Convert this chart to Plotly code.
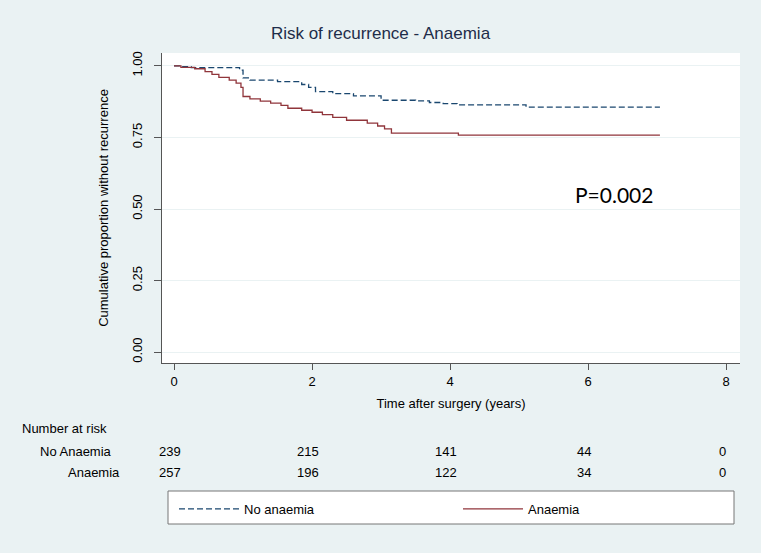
import plotly.graph_objects as go

# ---- data ----
no_anaemia_t = [0, 0.08, 0.25, 0.45, 0.95, 1.0, 1.1, 1.5, 1.85, 1.95, 2.05, 2.3, 2.6, 3.0, 3.5, 3.7, 3.9, 4.1, 5.1, 7.04]
no_anaemia_s = [1.0, 0.997, 0.994, 0.994, 0.985, 0.958, 0.950, 0.945, 0.935, 0.925, 0.910, 0.903, 0.895, 0.880, 0.878, 0.872, 0.868, 0.864, 0.856, 0.856]

anaemia_t = [0, 0.1, 0.3, 0.45, 0.55, 0.65, 0.8, 0.9, 0.97, 1.0, 1.1, 1.25, 1.4, 1.55, 1.65, 1.85, 2.0, 2.15, 2.3, 2.5, 2.8, 2.95, 3.05, 3.15, 4.12, 7.04]
anaemia_s = [1.0, 0.995, 0.99, 0.98, 0.97, 0.96, 0.95, 0.94, 0.925, 0.893, 0.885, 0.877, 0.87, 0.862, 0.852, 0.845, 0.838, 0.83, 0.82, 0.81, 0.80, 0.79, 0.78, 0.765, 0.758, 0.758]

risk_times = [0, 2, 4, 6, 8]
risk_no_anaemia = [239, 215, 141, 44, 0]
risk_anaemia = [257, 196, 122, 34, 0]

y_ticks = [0, 0.25, 0.5, 0.75, 1.0]
y_ticklabels = ["0.00", "0.25", "0.50", "0.75", "1.00"]
x_ticks = [0, 2, 4, 6, 8]

# ---- layout geometry ----
W, H = 761, 553
L, R, T, B = 162, 21, 53, 190
plot_h = H - T - B


def py(pixel_y):
    """pixel y (from top) -> paper y"""
    return (H - B - pixel_y) / plot_h


def px(pixel_x):
    return (pixel_x - L) / (W - L - R)


NAVY = "#1a476f"
MAROON = "#90353b"
BG = "#eaf2f3"
TEXTFONT = "Liberation Sans Narrow, Liberation Sans, Arial, sans-serif"
FONT = "Liberation Sans, Arial, sans-serif"

fig = go.Figure()
fig.add_trace(go.Scatter(
    x=no_anaemia_t, y=no_anaemia_s, mode="lines", name="No anaemia",
    line=dict(color=NAVY, width=1.3, dash="6px,3px", shape="hv"),
))
fig.add_trace(go.Scatter(
    x=anaemia_t, y=anaemia_s, mode="lines", name="Anaemia",
    line=dict(color=MAROON, width=1.3, shape="hv"),
))

annotations = []
annotations.append(dict(text="P=0.002", x=px(614), y=py(195), xref="paper", yref="paper",
                        showarrow=False, font=dict(family="Lato, Open Sans, sans-serif", size=21, color="#000000"),
                        xanchor="center", yanchor="middle"))
annotations.append(dict(text="Number at risk", x=px(20), y=py(428), xref="paper", yref="paper",
                        showarrow=False, font=dict(family=TEXTFONT, size=13, color="#000000"),
                        xanchor="left", yanchor="middle"))
annotations.append(dict(text="No Anaemia", x=px(114), y=py(451), xref="paper", yref="paper",
                        showarrow=False, font=dict(family=TEXTFONT, size=13, color="#000000"),
                        xanchor="right", yanchor="middle"))
annotations.append(dict(text="Anaemia", x=px(122), y=py(472), xref="paper", yref="paper",
                        showarrow=False, font=dict(family=TEXTFONT, size=13, color="#000000"),
                        xanchor="right", yanchor="middle"))
for t, n in zip(risk_times, risk_no_anaemia):
    annotations.append(dict(text=str(n), x=t, y=py(451), xref="x", yref="paper",
                            showarrow=False, font=dict(family=TEXTFONT, size=13, color="#000000"),
                            xanchor="center", yanchor="middle", xshift=-4))
for t, n in zip(risk_times, risk_anaemia):
    annotations.append(dict(text=str(n), x=t, y=py(472), xref="x", yref="paper",
                            showarrow=False, font=dict(family=TEXTFONT, size=13, color="#000000"),
                            xanchor="center", yanchor="middle", xshift=-4))

# legend frame (Stata-style box below the risk table)
shapes = [dict(type="rect", xref="paper", yref="paper", x0=px(168), x1=px(734), y0=py(524), y1=py(491),
               fillcolor="white", line=dict(color="#777777", width=1), layer="below")]

fig.update_layout(
    width=W, height=H,
    margin=dict(l=L, r=R, t=T, b=B),
    paper_bgcolor=BG, plot_bgcolor="white",
    title=dict(text="Risk of recurrence - Anaemia", x=0.5, xanchor="center", y=1 - 33 / H, yanchor="middle",
               font=dict(family=FONT, size=17, color="#1e2d4a")),
    font=dict(family=FONT, size=13, color="#000000"),
    showlegend=True,
    legend=dict(orientation="h", x=px(174), xanchor="left", y=py(494), yanchor="top",
                bgcolor="rgba(0,0,0,0)", borderwidth=0,
                itemwidth=60, entrywidth=209, font=dict(family=TEXTFONT, size=13, color="#000000"),
                tracegroupgap=0),
    annotations=annotations,
    shapes=shapes,
)
fig.update_xaxes(
    range=[-0.174, 8.2], tickvals=x_ticks, ticks="outside", ticklen=6, tickcolor="#555555",
    showline=True, linecolor="#555555", linewidth=1, showgrid=False, zeroline=False,
    tickfont=dict(family=FONT, size=13, color="#000000"),
    title=dict(text="Time after surgery (years)", font=dict(family=FONT, size=13, color="#000000"), standoff=11),
)
fig.update_yaxes(
    range=[-0.038, 1.045], tickvals=y_ticks, ticktext=y_ticklabels, tickangle=-90,
    ticks="outside", ticklen=7, tickcolor="#555555", ticklabelstandoff=7,
    showline=True, linecolor="#555555", linewidth=1, showgrid=True, gridcolor=BG, gridwidth=1, zeroline=False,
    tickfont=dict(family=FONT, size=13, color="#000000"),
    title=dict(text="Cumulative proportion without recurrence", font=dict(family=FONT, size=13, color="#000000"), standoff=18),
)

fig.write_html("out.html", post_script="document.body.style.margin='0';",
               config={"displayModeBar": False})
